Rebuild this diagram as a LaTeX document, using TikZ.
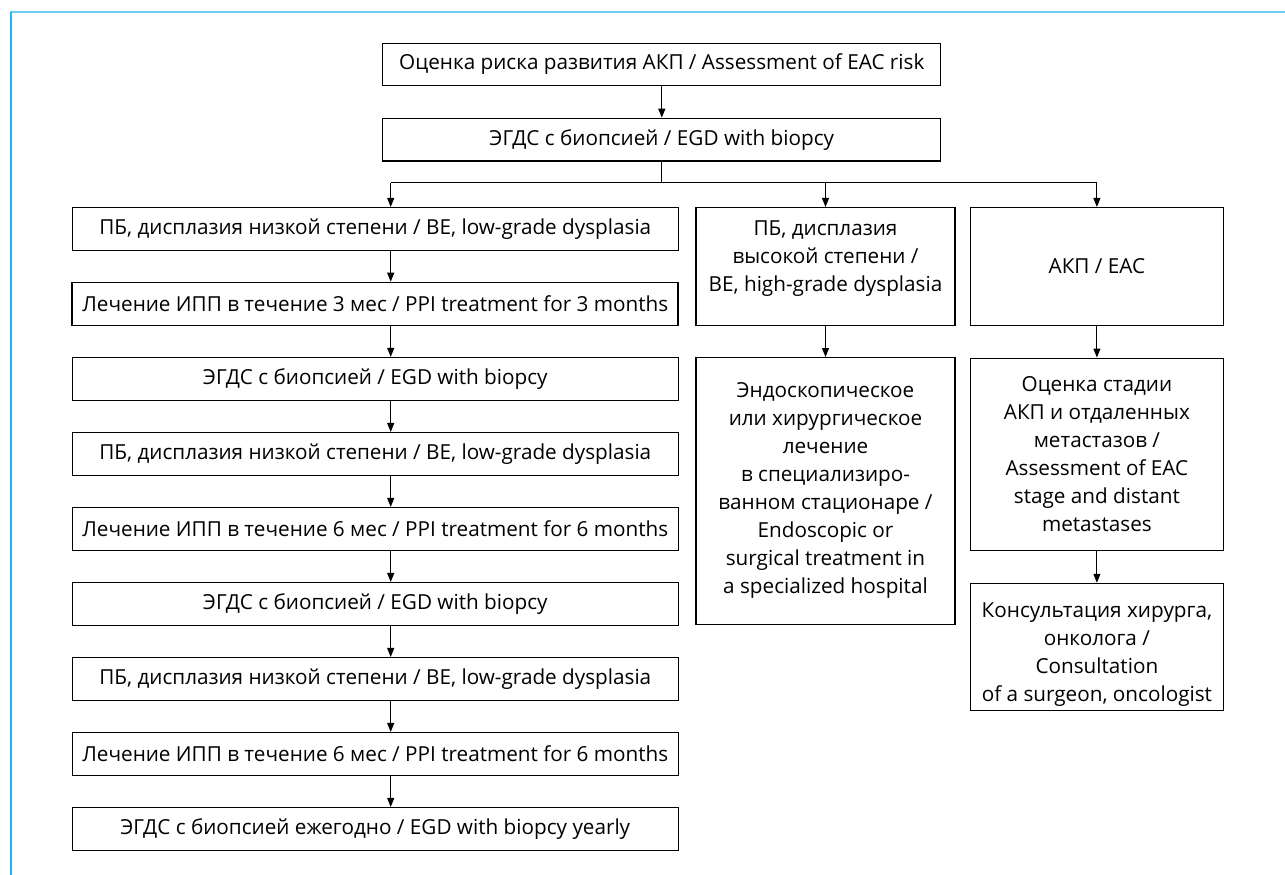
\documentclass[tikz,border=0pt]{standalone}
\usepackage{fontspec}
\setmainfont{Open Sans}
\usetikzlibrary{arrows.meta}
\definecolor{frametop}{RGB}{110,206,245}
\definecolor{frameleft}{RGB}{35,180,246}
\tikzset{
  box/.style={draw=black, line width=1.1pt, inner sep=0pt, align=center,
    font=\fontsize{20.7}{28}\selectfont},
  arr/.style={line width=1.1pt, -{Triangle[length=9pt,width=7pt]}},
  link/.style={line width=1.1pt}
}
\begin{document}
\begin{tikzpicture}[x=1pt,y=-1pt]
\useasboundingbox (0,0) rectangle (1285,875);
% outer frame
\draw[frametop, line width=2.2pt] (10,12) -- (1285,12);
\draw[frameleft, line width=1.6pt] (10.7,12) -- (10.7,875);

% top of the chart
\node[box, minimum width=558pt, minimum height=42.4pt] (risk) at (661.8,64.5)
  {Оценка риска развития АКП / Assessment of EAC risk};
\node[box, minimum width=558pt, minimum height=42.7pt] (egd) at (661.8,139.6)
  {ЭГДС с биопсией / EGD with biopcy};

% left column
\foreach \i/\t/\lw in {
  0/{ПБ, дисплазия низкой степени / BE, low-grade dysplasia}/1.1pt,
  1/{Лечение ИПП в течение 3 мес / PPI treatment for 3 months}/1.7pt,
  2/{ЭГДС с биопсией / EGD with biopcy}/1.1pt,
  3/{ПБ, дисплазия низкой степени / BE, low-grade dysplasia}/1.1pt,
  4/{Лечение ИПП в течение 6 мес / PPI treatment for 6 months}/1.1pt,
  5/{ЭГДС с биопсией / EGD with biopcy}/1.1pt,
  6/{ПБ, дисплазия низкой степени / BE, low-grade dysplasia}/1.1pt,
  7/{Лечение ИПП в течение 6 мес / PPI treatment for 6 months}/1.1pt,
  8/{ЭГДС с биопсией ежегодно / EGD with biopcy yearly}/1.1pt}
  \node[box, line width=\lw, minimum width=606pt, minimum height=43pt]
    (l\i) at (375.3,{229+75*\i}) {\t};

% middle column
\node[box, minimum width=259pt, minimum height=118pt] (m1) at (825.5,266.5)
  {ПБ, дисплазия\\высокой степени /\\BE, high-grade dysplasia\\[-8pt]\mbox{}};
\node[box, minimum width=259pt, minimum height=266.5pt] (m2) at (825.5,490.8)
  {Эндоскопическое\\или хирургическое\\лечение\\в специализиро-\\ванном стационаре /\\Endoscopic or\\surgical treatment in\\a specialized hospital};

% right column
\node[box, minimum width=253.7pt, minimum height=118pt] (r1) at (1096.9,266.5)
  {АКП / EAC};
\node[box, minimum width=253.7pt, minimum height=192.7pt] (r2) at (1096.9,454.4)
  {Оценка стадии\\АКП и отдаленных\\метастазов /\\Assessment of EAC\\stage and distant\\metastases};
\node[box, minimum width=253.7pt, minimum height=126.7pt] (r3) at (1096.9,646.7)
  {\mbox{}\\[3pt]Консультация хирурга,\\онколога /\\Consultation\\of a surgeon, oncologist};

% connectors
\coordinate (lx) at (390.7,0);
\coordinate (fork) at (661.8,182.7);
\draw[arr] (risk) -- (egd);
\draw[link] (egd.south) -- (fork);
\draw[link] (fork -| lx) -- (fork -| r1.north);
\draw[arr] (fork -| lx) -- (l0.north -| lx);
\draw[arr] (fork -| m1.north) -- (m1.north);
\draw[arr] (fork -| r1.north) -- (r1.north);
\foreach \a/\b in {0/1,1/2,2/3,3/4,4/5,5/6,6/7,7/8}
  \draw[arr] (l\a.south -| lx) -- (l\b.north -| lx);
\draw[arr] (m1) -- (m2);
\draw[arr] (r1) -- (r2);
\draw[arr] (r2) -- (r3);
\end{tikzpicture}
\end{document}
